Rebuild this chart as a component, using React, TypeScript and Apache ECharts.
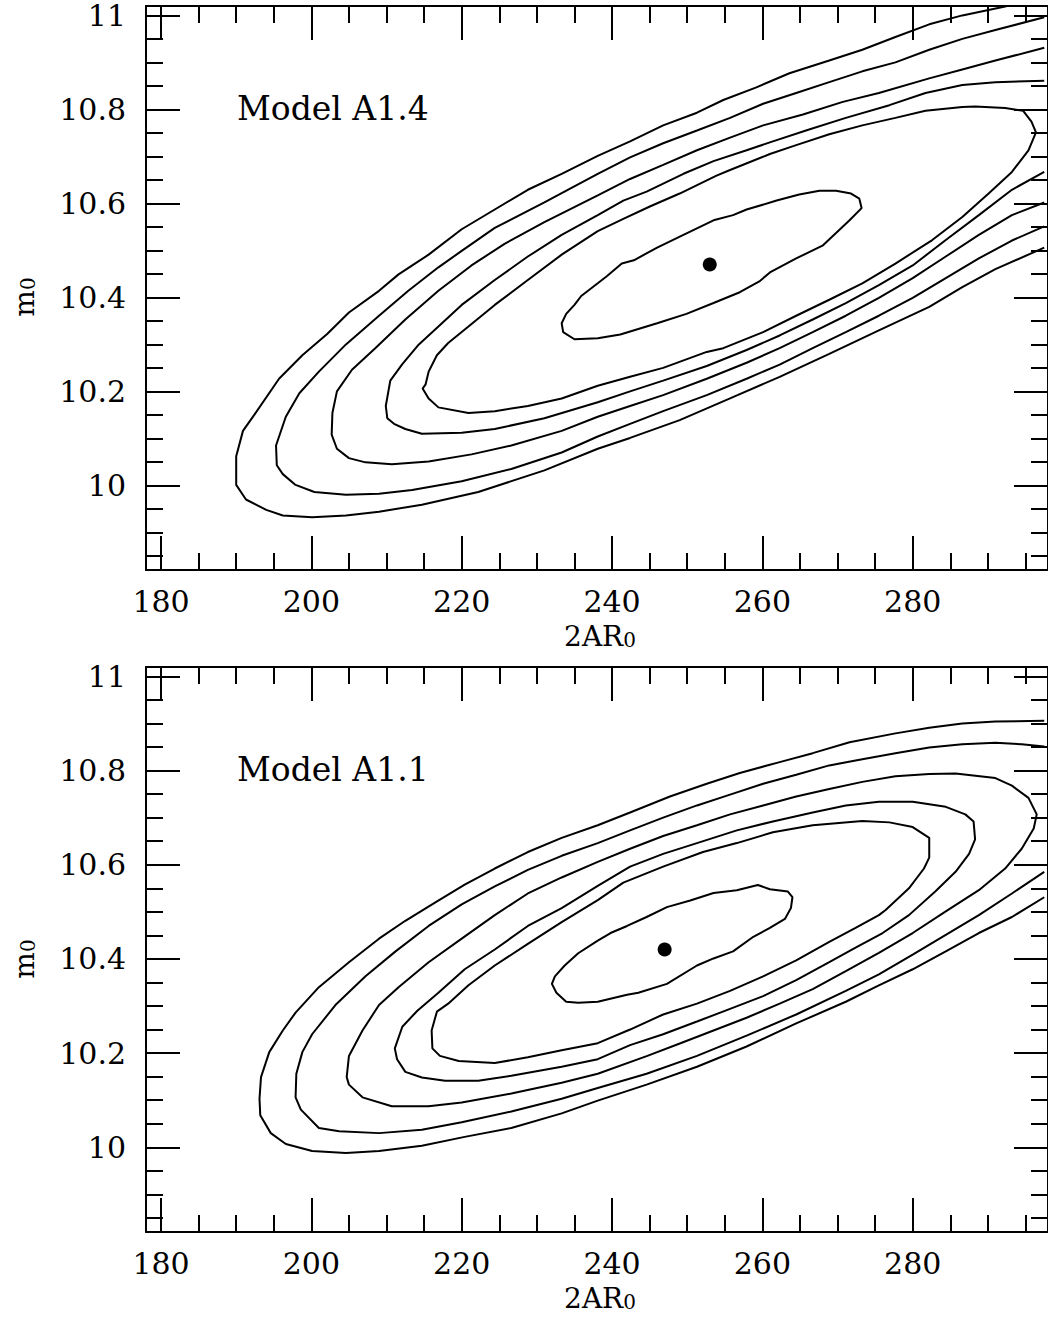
import React, { useEffect, useRef } from "react";
import * as echarts from "echarts";

const X_MIN = 178;
const X_MAX = 298;
const Y_MIN = 9.82;
const Y_MAX = 11.02;
const X_MAJOR = [180, 200, 220, 240, 260, 280];
const X_MINOR = [185, 190, 195, 205, 210, 215, 225, 230, 235, 245, 250, 255, 265, 270, 275, 285, 290, 295];
const Y_MAJOR = [10, 10.2, 10.4, 10.6, 10.8, 11];
const Y_MINOR = [9.85, 9.9, 9.95, 10.05, 10.1, 10.15, 10.25, 10.3, 10.35, 10.45, 10.5, 10.55, 10.65, 10.7, 10.75, 10.85, 10.9, 10.95];

const X_TITLE = "2AR{sub|0}";
const Y_TITLE = "m{sub|0}";
const MODEL_TOP = "Model A1.4";
const MODEL_BOTTOM = "Model A1.1";

const TOP_BEST = [253.0, 10.47];
const BOT_BEST = [247.0, 10.42];

const TOP_C1 = [[238.1,10.430],[235.9,10.403],[235.0,10.384],[233.9,10.365],[233.3,10.345],[233.5,10.326],[235.0,10.311],[238.1,10.313],[241.1,10.321],[246.0,10.345],[249.9,10.365],[253.5,10.388],[257.0,10.411],[259.6,10.434],[261.0,10.453],[264.5,10.483],[268.0,10.510],[269.8,10.537],[271.6,10.564],[273.2,10.590],[272.9,10.610],[271.8,10.621],[269.8,10.627],[267.6,10.627],[264.9,10.619],[261.9,10.606],[257.9,10.587],[256.1,10.575],[253.5,10.564],[249.5,10.533],[246.0,10.506],[242.9,10.479],[241.3,10.472],[239.3,10.445],[238.1,10.430]];
const TOP_C2 = [[238.1,10.541],[233.3,10.491],[228.8,10.437],[224.4,10.384],[220.9,10.338],[218.2,10.303],[216.7,10.277],[215.6,10.242],[215.2,10.215],[214.8,10.206],[215.6,10.185],[216.9,10.166],[220.9,10.154],[224.4,10.158],[228.8,10.169],[233.3,10.185],[238.1,10.212],[242.4,10.231],[246.8,10.250],[252.6,10.284],[254.8,10.292],[260.1,10.326],[264.5,10.361],[268.9,10.395],[273.3,10.430],[277.7,10.472],[282.6,10.522],[286.6,10.571],[290.1,10.621],[293.2,10.667],[295.4,10.713],[296.4,10.751],[295.8,10.774],[294.7,10.797],[292.3,10.803],[288.3,10.806],[286.6,10.805],[281.7,10.797],[277.7,10.782],[273.3,10.766],[268.9,10.747],[264.5,10.724],[261.0,10.705],[255.7,10.671],[253.9,10.659],[249.0,10.621],[245.1,10.594],[241.5,10.567],[238.1,10.541]];
const TOP_C3 = [[297.5,10.667],[293.2,10.629],[288.8,10.575],[284.4,10.522],[280.0,10.468],[275.5,10.426],[271.1,10.388],[266.7,10.353],[262.3,10.319],[257.9,10.288],[252.6,10.254],[246.8,10.223],[242.4,10.200],[238.1,10.177],[231.0,10.143],[224.4,10.120],[220.0,10.112],[214.7,10.110],[212.5,10.120],[211.0,10.131],[210.1,10.143],[209.9,10.169],[210.5,10.223],[212.1,10.258],[214.3,10.300],[216.9,10.338],[220.0,10.384],[224.4,10.437],[228.8,10.487],[233.3,10.533],[238.1,10.575],[241.5,10.606],[244.6,10.625],[249.5,10.663],[253.5,10.690],[257.9,10.713],[261.4,10.732],[265.8,10.755],[271.1,10.782],[276.9,10.809],[281.7,10.835],[286.6,10.852],[291.0,10.858],[297.5,10.861]];
const TOP_C4 = [[297.5,10.602],[293.2,10.575],[288.8,10.533],[284.4,10.487],[280.0,10.441],[275.5,10.399],[271.1,10.361],[266.7,10.326],[262.3,10.292],[257.9,10.261],[252.6,10.227],[246.8,10.192],[242.4,10.169],[238.1,10.146],[233.3,10.116],[226.6,10.085],[221.3,10.066],[215.6,10.051],[210.7,10.045],[207.2,10.049],[205.0,10.058],[203.4,10.078],[202.7,10.108],[202.8,10.154],[203.4,10.200],[205.4,10.246],[208.5,10.292],[212.5,10.353],[216.9,10.414],[221.3,10.468],[225.7,10.514],[231.0,10.560],[238.1,10.617],[242.4,10.652],[246.8,10.682],[251.3,10.713],[255.7,10.740],[260.1,10.766],[265.4,10.789],[270.7,10.816],[275.5,10.835],[282.2,10.866],[286.6,10.885],[291.0,10.904],[297.5,10.931]];
const TOP_C5 = [[297.5,10.551],[293.2,10.521],[288.8,10.483],[284.4,10.441],[280.0,10.399],[275.5,10.361],[271.1,10.326],[266.7,10.292],[262.3,10.257],[257.9,10.227],[252.6,10.192],[246.8,10.158],[242.4,10.131],[238.1,10.104],[233.3,10.070],[226.6,10.035],[220.0,10.009],[213.4,9.990],[209.0,9.982],[204.6,9.980],[200.4,9.986],[197.9,10.001],[196.2,10.024],[195.4,10.043],[195.3,10.085],[196.6,10.146],[198.4,10.196],[201.0,10.242],[204.6,10.300],[209.0,10.361],[212.9,10.414],[216.9,10.464],[220.0,10.499],[224.4,10.548],[231.0,10.602],[238.1,10.663],[242.4,10.698],[246.8,10.728],[251.3,10.755],[255.7,10.782],[260.1,10.812],[264.5,10.835],[268.9,10.858],[273.3,10.881],[277.7,10.900],[282.2,10.927],[286.6,10.950],[291.0,10.969],[297.5,10.996]];
const TOP_C6 = [[297.5,10.506],[291.0,10.460],[286.6,10.422],[282.2,10.380],[275.5,10.330],[268.9,10.280],[262.3,10.231],[255.7,10.185],[249.0,10.139],[242.4,10.101],[238.1,10.078],[231.0,10.032],[222.2,9.986],[214.7,9.959],[209.0,9.944],[204.6,9.936],[200.1,9.932],[196.2,9.936],[194.0,9.948],[191.3,9.970],[190.0,10.001],[190.0,10.062],[190.9,10.116],[192.4,10.150],[195.7,10.227],[198.8,10.277],[202.1,10.322],[205.0,10.368],[209.0,10.414],[211.6,10.449],[215.6,10.491],[220.0,10.545],[224.4,10.587],[228.8,10.629],[233.3,10.663],[238.1,10.701],[242.4,10.732],[246.8,10.766],[251.3,10.793],[254.8,10.820],[259.2,10.847],[263.6,10.877],[268.9,10.904],[273.3,10.927],[277.7,10.954],[282.2,10.981],[286.6,11.000],[292.3,11.019],[297.5,11.042]];

const BOT_C1 = [[238.1,10.439],[235.5,10.412],[233.7,10.386],[232.4,10.363],[232.0,10.347],[232.6,10.328],[233.9,10.309],[235.5,10.307],[238.1,10.309],[242.0,10.324],[243.5,10.328],[247.3,10.347],[251.3,10.386],[253.5,10.401],[256.1,10.416],[258.8,10.447],[261.0,10.466],[263.0,10.485],[263.8,10.508],[264.0,10.531],[263.4,10.543],[261.0,10.548],[259.4,10.557],[256.6,10.546],[253.5,10.540],[250.4,10.524],[247.3,10.510],[244.6,10.489],[242.0,10.470],[239.8,10.455],[238.1,10.439]];
const BOT_C2 = [[238.1,10.525],[233.3,10.478],[228.8,10.432],[224.4,10.386],[220.9,10.344],[218.2,10.305],[216.7,10.288],[216.0,10.248],[216.1,10.210],[217.1,10.194],[219.6,10.183],[224.4,10.179],[228.8,10.191],[233.3,10.206],[238.1,10.221],[242.4,10.250],[246.8,10.282],[251.3,10.305],[255.7,10.332],[260.1,10.363],[264.5,10.397],[268.9,10.436],[272.4,10.466],[275.5,10.493],[276.4,10.504],[279.5,10.550],[281.5,10.592],[282.2,10.615],[282.2,10.657],[280.0,10.680],[276.9,10.690],[273.3,10.693],[266.7,10.684],[261.4,10.669],[256.6,10.646],[252.1,10.627],[246.8,10.596],[241.5,10.562],[238.1,10.525]];
const BOT_C3 = [[238.1,10.555],[233.3,10.508],[228.8,10.470],[224.4,10.420],[220.4,10.378],[216.9,10.328],[214.1,10.290],[212.1,10.256],[211.1,10.210],[211.4,10.187],[212.5,10.160],[214.7,10.148],[217.8,10.141],[222.2,10.141],[226.6,10.152],[233.3,10.171],[238.1,10.187],[242.4,10.217],[246.8,10.240],[251.3,10.267],[255.7,10.294],[260.1,10.321],[264.5,10.355],[268.9,10.393],[272.4,10.424],[276.0,10.455],[279.5,10.493],[283.0,10.543],[285.7,10.585],[287.5,10.623],[288.3,10.654],[288.1,10.692],[287.0,10.707],[284.4,10.723],[280.0,10.734],[275.5,10.734],[271.1,10.726],[266.7,10.711],[261.4,10.692],[256.6,10.673],[251.3,10.646],[246.8,10.623],[242.4,10.596],[238.1,10.555]];
const BOT_C4 = [[238.1,10.606],[233.3,10.573],[228.8,10.539],[224.4,10.493],[220.0,10.443],[215.6,10.393],[211.6,10.340],[209.0,10.302],[206.8,10.248],[205.0,10.194],[204.7,10.149],[205.0,10.133],[206.8,10.106],[210.7,10.087],[215.6,10.087],[220.0,10.095],[226.6,10.114],[233.3,10.137],[238.1,10.156],[244.7,10.194],[249.1,10.221],[253.5,10.248],[257.9,10.275],[262.3,10.305],[266.7,10.336],[271.1,10.374],[275.5,10.413],[280.0,10.455],[284.4,10.501],[288.8,10.546],[292.3,10.592],[294.5,10.634],[296.1,10.677],[296.5,10.707],[295.4,10.742],[293.2,10.768],[291.0,10.784],[285.7,10.794],[282.2,10.793],[277.7,10.788],[273.3,10.776],[268.9,10.761],[264.5,10.745],[260.1,10.726],[255.7,10.707],[251.3,10.684],[246.8,10.661],[242.4,10.634],[238.1,10.606]];
const BOT_C5 = [[297.5,10.585],[293.2,10.539],[288.8,10.493],[284.4,10.451],[280.0,10.409],[275.5,10.367],[271.1,10.332],[264.5,10.282],[257.9,10.237],[251.3,10.194],[244.6,10.156],[238.1,10.126],[233.3,10.103],[226.6,10.076],[220.0,10.053],[214.7,10.037],[209.0,10.030],[203.7,10.034],[201.0,10.041],[198.6,10.080],[197.9,10.106],[198.0,10.156],[198.8,10.202],[200.1,10.240],[203.2,10.302],[207.2,10.363],[211.2,10.416],[215.6,10.470],[220.0,10.516],[224.4,10.554],[228.8,10.589],[233.3,10.619],[238.1,10.646],[242.4,10.673],[246.8,10.700],[251.3,10.726],[255.7,10.749],[260.1,10.772],[264.5,10.791],[268.9,10.811],[273.3,10.824],[277.7,10.837],[282.2,10.849],[286.6,10.856],[291.0,10.859],[294.5,10.856],[297.5,10.851]];
const BOT_C6 = [[297.5,10.531],[293.2,10.489],[288.8,10.455],[284.4,10.416],[280.0,10.378],[275.5,10.344],[271.1,10.309],[264.5,10.263],[257.9,10.214],[251.3,10.171],[244.6,10.133],[238.1,10.099],[233.3,10.072],[226.6,10.041],[220.4,10.022],[214.7,10.003],[209.0,9.992],[204.6,9.988],[200.1,9.992],[196.6,10.007],[194.6,10.030],[193.2,10.068],[193.1,10.103],[193.3,10.149],[194.4,10.202],[196.2,10.248],[197.9,10.286],[201.0,10.340],[205.0,10.393],[209.0,10.443],[212.5,10.481],[216.5,10.520],[220.4,10.558],[224.4,10.592],[228.8,10.627],[233.3,10.657],[238.1,10.684],[242.4,10.711],[247.7,10.745],[252.6,10.772],[257.0,10.795],[262.3,10.818],[266.7,10.837],[271.6,10.860],[277.7,10.879],[282.2,10.891],[286.6,10.900],[291.0,10.904],[297.5,10.906]];

const TOP_CONTOURS = [TOP_C1, TOP_C2, TOP_C3, TOP_C4, TOP_C5, TOP_C6];
const BOT_CONTOURS = [BOT_C1, BOT_C2, BOT_C3, BOT_C4, BOT_C5, BOT_C6];

const FONT = "DejaVu Serif";
const BLACK = "#000";

function axesX(grid: number) {
  const line = { color: BLACK, width: 2 };
  const base: any = {
    type: "value",
    gridIndex: grid,
    min: X_MIN,
    max: X_MAX,
    splitLine: { show: false },
    axisLabel: { show: false },
    axisLine: { show: false, onZero: false },
    axisTick: { show: false },
  };
  return [
    {
      ...base,
      position: "bottom",
      axisLine: { show: true, onZero: false, lineStyle: line },
      axisTick: { show: true, inside: true, length: 34, customValues: X_MAJOR, lineStyle: line },
      axisLabel: { show: true, customValues: X_MAJOR, margin: 18, color: BLACK, fontFamily: FONT, fontSize: 30, lineHeight: 26 },
    },
    { ...base, position: "bottom", axisTick: { show: true, inside: true, length: 17, customValues: X_MINOR, lineStyle: line } },
    {
      ...base,
      position: "top",
      axisLine: { show: true, onZero: false, lineStyle: line },
      axisTick: { show: true, inside: true, length: 34, customValues: X_MAJOR, lineStyle: line },
    },
    { ...base, position: "top", axisTick: { show: true, inside: true, length: 17, customValues: X_MINOR, lineStyle: line } },
  ];
}

function axesY(grid: number) {
  const line = { color: BLACK, width: 2 };
  const base: any = {
    type: "value",
    gridIndex: grid,
    min: Y_MIN,
    max: Y_MAX,
    splitLine: { show: false },
    axisLabel: { show: false },
    axisLine: { show: false, onZero: false },
    axisTick: { show: false },
  };
  return [
    {
      ...base,
      position: "left",
      axisLine: { show: true, onZero: false, lineStyle: line },
      axisTick: { show: true, inside: true, length: 34, customValues: Y_MAJOR, lineStyle: line },
      axisLabel: { show: true, customValues: Y_MAJOR, margin: 20, color: BLACK, fontFamily: FONT, fontSize: 30, lineHeight: 24 },
    },
    { ...base, position: "left", axisTick: { show: true, inside: true, length: 17, customValues: Y_MINOR, lineStyle: line } },
    {
      ...base,
      position: "right",
      axisLine: { show: true, onZero: false, lineStyle: line },
      axisTick: { show: true, inside: true, length: 34, customValues: Y_MAJOR, lineStyle: line },
    },
    { ...base, position: "right", axisTick: { show: true, inside: true, length: 17, customValues: Y_MINOR, lineStyle: line } },
  ];
}

function panelSeries(contours: number[][][], best: number[], axisIndex: number) {
  const s: any[] = contours.map((c) => ({
    type: "line",
    xAxisIndex: axisIndex,
    yAxisIndex: axisIndex,
    data: c,
    showSymbol: false,
    symbol: "none",
    smooth: false,
    clip: true,
    lineStyle: { color: BLACK, width: 2 },
    silent: true,
  }));
  s.push({
    type: "scatter",
    xAxisIndex: axisIndex,
    yAxisIndex: axisIndex,
    data: [best],
    symbol: "circle",
    symbolSize: 14,
    itemStyle: { color: BLACK, opacity: 1 },
    silent: true,
  });
  return s;
}

export default function App() {
  const ref = useRef<HTMLDivElement>(null);
  useEffect(() => {
    if (!ref.current) return;
    const chart = echarts.init(ref.current, null, { renderer: "svg" });
    const modelStyle = (t: string) => ({
      text: t,
      fill: BLACK,
      fontFamily: FONT,
      fontSize: 33,
      align: "left",
      verticalAlign: "middle",
    });
    const titleStyle = (t: string) => ({
      text: t,
      fill: BLACK,
      fontFamily: FONT,
      fontSize: 28,
      lineHeight: 28,
      align: "center",
      verticalAlign: "middle",
      rich: {
        sub: { fill: BLACK, fontFamily: FONT, fontSize: 20, lineHeight: 10, verticalAlign: "bottom" },
      },
    });
    chart.setOption({
      animation: false,
      backgroundColor: "#fff",
      grid: [
        { left: 146, top: 6, width: 906, height: 564 },
        { left: 146, top: 667, width: 906, height: 565 },
      ],
      xAxis: [...axesX(0), ...axesX(1)],
      yAxis: [...axesY(0), ...axesY(1)],
      series: [...panelSeries(TOP_CONTOURS, TOP_BEST, 0), ...panelSeries(BOT_CONTOURS, BOT_BEST, 4)],
      graphic: [
        { type: "text", x: 237, y: 108.5, style: modelStyle(MODEL_TOP), silent: true },
        { type: "text", x: 237, y: 769.5, style: modelStyle(MODEL_BOTTOM), silent: true },
        { type: "text", x: 600, y: 636, style: titleStyle(X_TITLE), silent: true },
        { type: "text", x: 600, y: 1298, style: titleStyle(X_TITLE), silent: true },
        { type: "text", x: 24, y: 297, rotation: Math.PI / 2, style: titleStyle(Y_TITLE), silent: true },
        { type: "text", x: 24, y: 959, rotation: Math.PI / 2, style: titleStyle(Y_TITLE), silent: true },
      ],
    });
    return () => chart.dispose();
  }, []);
  return (
    <div
      ref={ref}
      style={{ position: "absolute", left: 0, top: 0, width: 1048, height: 1319, background: "#fff" }}
    />
  );
}
